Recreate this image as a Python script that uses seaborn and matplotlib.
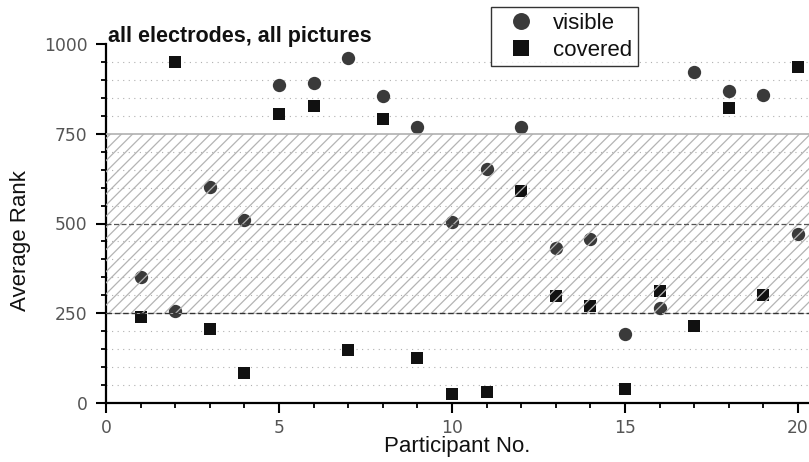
import matplotlib
matplotlib.use("Agg")
import matplotlib.pyplot as plt
import seaborn as sns
import pandas as pd
from matplotlib.patches import Rectangle
from matplotlib.ticker import MultipleLocator
from matplotlib.lines import Line2D

participants = list(range(1, 21))
visible = [350, 257, 601, 510, 886, 892, 962, 856, 770, 505,
           653, 769, 433, 458, 193, 263, 923, 869, 858, 470]
covered = [238, 951, 207, 82, 806, 828, 147, 792, 124, 24,
           31, 591, 297, 271, 37, 312, 214, 823, 300, 938]
y_ticks = [0, 250, 500, 750, 1000]
x_ticks = [0, 5, 10, 15, 20]
title = "all electrodes, all pictures"

sns.set_theme(style="white")
plt.rcParams['font.family'] = ['Liberation Sans', 'DejaVu Sans']
plt.rcParams['hatch.linewidth'] = 0.9

df = pd.DataFrame({
    "Participant No.": participants * 2,
    "Average Rank": visible + covered,
    "condition": ["visible"] * 20 + ["covered"] * 20,
})

fig = plt.figure(figsize=(8.09, 4.62), dpi=100)
ax = fig.add_axes([106/809, (462-402.7)/462, (809-106)/809, 358.4/462])

sns.scatterplot(data=df[df.condition == "visible"], x="Participant No.", y="Average Rank",
                color="#3a3a3a", marker="o", s=92, linewidth=0, ax=ax, zorder=2, legend=False)
sns.scatterplot(data=df[df.condition == "covered"], x="Participant No.", y="Average Rank",
                color="#111111", marker="s", s=78, linewidth=0, ax=ax, zorder=2, legend=False)

ax.set_xlim(0, 703/34.6)
ax.set_ylim(0, 1000)

# dotted minor grid
for yv in range(50, 1000, 50):
    if yv in (250, 500, 750):
        continue
    ax.axhline(yv, color="#b0b0b0", linestyle=(0, (1, 4)), linewidth=0.8, zorder=1)

# hatched band
rect = Rectangle((0, 250), 30, 500, facecolor="none", edgecolor="#b4b4b4",
                 hatch="///", linewidth=0, zorder=3)
ax.add_patch(rect)
ax.axhline(750, color="#b0b0b0", linewidth=1.2, zorder=3)
ax.axhline(500, color="#555555", linestyle=(0, (4, 2)), linewidth=0.9, zorder=3)
ax.axhline(250, color="#333333", linestyle=(0, (4, 2)), linewidth=1.0, zorder=3)
ax.axhline(250, color="#c0c0c0", linewidth=0.6, zorder=2.9)

ax.xaxis.set_minor_locator(MultipleLocator(1))
ax.yaxis.set_minor_locator(MultipleLocator(50))
ax.set_xticks(x_ticks)
ax.set_yticks(y_ticks)

for s in ["top", "right"]:
    ax.spines[s].set_visible(False)
for s in ["left", "bottom"]:
    ax.spines[s].set_color("black")
    ax.spines[s].set_linewidth(1.6)

ax.tick_params(axis="both", which="major", direction="out", length=7, width=1.5,
               color="black", labelsize=12.3, labelcolor="#555555", pad=5,
               left=True, bottom=True)
ax.tick_params(axis="y", which="major", pad=6.5)
ax.tick_params(axis="both", which="minor", direction="out", length=3.8, width=1.3,
               color="black", left=True, bottom=True)
for lbl in ax.get_xticklabels() + ax.get_yticklabels():
    lbl.set_family("DejaVu Sans")

ax.set_xlabel("Participant No.", fontsize=16, color="#111111", labelpad=-1)
ax.set_ylabel("Average Rank", fontsize=16, color="#111111")
ax.yaxis.set_label_coords((31 - 106) / 703, (402.7 - 241) / 358.4)

fig.text(108/809, 1 - 41.7/462, title, fontsize=15.5, fontweight="bold",
         color="#111111", va="baseline", ha="left")

handles = [
    Line2D([], [], linestyle="none", marker="o", markersize=12.2, color="#3a3a3a", markeredgewidth=0),
    Line2D([], [], linestyle="none", marker="s", markersize=11.3, color="#111111", markeredgewidth=0),
]
leg = fig.legend(handles, ["visible", "covered"], loc="upper left",
                 bbox_to_anchor=(490.7/809, 1 - 7.3/462), fontsize=16,
                 frameon=True, fancybox=False, edgecolor="black",
                 borderpad=0.25, labelspacing=0.26, handletextpad=0.35,
                 handlelength=2.2, borderaxespad=0)
leg.get_frame().set_linewidth(1.0)
for t in leg.get_texts():
    t.set_color("#111111")

fig.savefig("out.png", dpi=100)
